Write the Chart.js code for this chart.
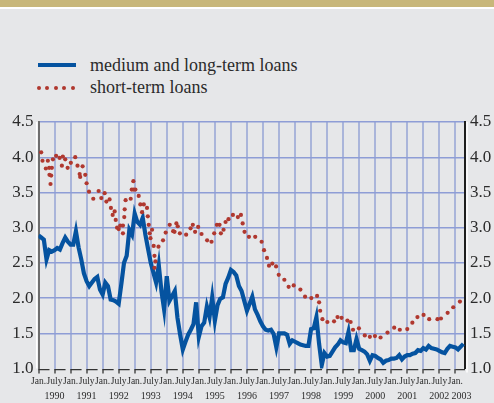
<!DOCTYPE html>
<html>
<head>
<meta charset="utf-8">
<script src="https://cdn.jsdelivr.net/npm/chart.js@4"></script>
<style>
  body { margin: 0; background: #E6E7E9; }
  #wrap { position: relative; width: 494px; height: 403px; overflow: hidden; background: #E6E7E9; }
  #band { position: absolute; left: 0; top: 0; width: 494px; height: 7px; background: #C8B77A; }
  #band2 { position: absolute; left: 0; top: 7px; width: 494px; height: 2px; background: #ffffff; }
  .leg { position: absolute; left: 90px; font-family: 'Liberation Serif', serif; font-size: 18px; color: #2b2b2b; line-height: 20px; }
  #legLine { position: absolute; left: 38px; top: 63px; width: 38px; height: 4px; background: #0553A0; }
  .dot { position: absolute; top: 86px; width: 4px; height: 4px; border-radius: 2px; background: #B0382F; }
  canvas { position: absolute; left: 0; top: 0; }
</style>
</head>
<body>
<div id="wrap">
  <div id="band"></div>
  <div id="band2"></div>
  <div id="legLine"></div>
  <div class="leg" style="top:55px">medium and long-term loans</div>
  <div class="dot" style="left:37px"></div>
  <div class="dot" style="left:45px"></div>
  <div class="dot" style="left:54px"></div>
  <div class="dot" style="left:62px"></div>
  <div class="dot" style="left:71px"></div>
  <div class="leg" style="top:77px">short-term loans</div>
  <canvas id="graphCanvas" width="494" height="403"></canvas>
</div>
<script>
// monthly, starting Jan. 1990
const blueValues = [
  2.89, 2.86, 2.83, 2.55, 2.68, 2.66, 2.68, 2.71, 2.69, 2.78, 2.86, 2.80,
  2.76, 2.76, 2.95, 2.72, 2.55, 2.35, 2.24, 2.17, 2.22, 2.27, 2.30, 2.12,
  2.05, 2.22, 2.17, 1.98, 1.97, 1.95, 1.92, 2.20, 2.50, 2.60, 2.97, 2.90,
  3.20, 3.08, 3.04, 3.14, 2.90, 2.70, 2.50, 2.36, 2.22, 2.47, 2.10, 1.84,
  2.31, 1.96, 2.03, 2.10, 1.72, 1.48, 1.27, 1.38, 1.48, 1.55, 1.63, 1.94,
  1.45, 1.60, 1.65, 1.88, 1.73, 2.01, 1.68, 1.90, 1.99, 2.01, 2.20, 2.29,
  2.40, 2.37, 2.32, 2.17, 2.10, 1.96, 1.82, 1.92, 2.02, 1.84, 1.76, 1.67,
  1.60, 1.55, 1.54, 1.55, 1.49, 1.30, 1.50, 1.50, 1.50, 1.48, 1.35, 1.40,
  1.38, 1.36, 1.34, 1.33, 1.32, 1.32, 1.56, 1.57, 1.73, 1.35, 1.05, 1.22,
  1.17, 1.18, 1.24, 1.30, 1.34, 1.40, 1.37, 1.36, 1.52, 1.26, 1.26, 1.42,
  1.28, 1.26, 1.24, 1.20, 1.11, 1.19, 1.18, 1.15, 1.13, 1.08, 1.11, 1.12,
  1.14, 1.14, 1.15, 1.19, 1.13, 1.17, 1.19, 1.19, 1.21, 1.22, 1.26, 1.25,
  1.29, 1.27, 1.32, 1.29, 1.28, 1.27, 1.25, 1.23, 1.22, 1.28, 1.32, 1.31,
  1.30, 1.27, 1.31, 1.35
];

// short-term loans: months since Jan. 1990 and values
const redMonths = [
  1.0, 1.5, 2.75, 3.5, 4.0, 4.1, 4.5, 4.75, 5.0, 5.4, 6.6, 7.9, 8.75, 9.1, 10.0, 10.9,
  12.1, 13.75, 14.6, 15.4, 15.6, 16.5, 17.5, 18.0, 18.9, 20.5, 22.5, 23.5,
  24.75, 25.4, 26.6, 27.1, 27.75, 28.5, 28.9, 29.4, 30.0, 30.6, 31.6, 31.6, 32.1, 32.25, 32.6, 34.5, 34.9, 35.5, 35.6,
  36.25, 37.5, 38.1, 38.75, 39.4, 40.6, 40.9, 41.25, 41.6, 41.9, 42.5, 43.1, 43.4, 43.4, 43.75, 44.9, 46.6, 47.6,
  49.1, 50.4, 50.9, 51.6, 52.1, 52.9, 55.25, 56.9, 57.75, 58.6, 59.75,
  61.0, 63.1, 64.75, 65.75, 66.75, 67.75, 68.25, 69.25, 70.0, 71.1,
  72.75, 74.6, 75.75, 76.4, 77.1, 78.75, 81.1, 83.5,
  84.4, 85.5, 86.25, 87.5, 88.9, 89.9, 92.0, 93.6, 95.5,
  98.0, 99.75, 102.1, 104.25, 105.0, 105.4, 106.25, 108.1, 110.6, 111.9, 113.4, 115.6, 116.8, 117.7, 119.9,
  122.1, 124.0, 125.9, 128.0, 130.6, 133.1, 135.2, 138.0, 139.9, 141.8, 144.1,
  146.2, 149.3, 150.6, 153.1, 155.2, 157.7
];
const redValues = [
  4.07, 3.95, 3.84, 3.95, 3.85, 3.75, 3.62, 3.74, 3.85, 3.97, 4.02, 3.99, 3.88, 4.01, 3.97, 3.85,
  3.92, 4.00, 3.88, 3.76, 3.72, 3.87, 3.75, 3.63, 3.51, 3.41, 3.52, 3.42,
  3.49, 3.37, 3.40, 3.28, 3.18, 3.23, 3.11, 3.00, 2.98, 3.03, 3.03, 2.92, 3.15, 3.26, 3.39, 3.41, 3.54, 3.66, 3.54,
  3.54, 3.45, 3.33, 3.22, 3.33, 3.28, 3.16, 3.04, 2.92, 2.85, 2.97, 2.74, 2.60, 2.43, 2.52, 2.73, 2.82, 2.93,
  3.04, 2.95, 2.94, 3.06, 3.02, 2.92, 2.90, 2.99, 3.04, 2.94, 3.01,
  2.91, 2.82, 2.80, 2.92, 3.04, 3.04, 2.92, 2.97, 3.08, 3.12,
  3.18, 3.15, 3.18, 3.06, 2.94, 2.87, 2.87, 2.80,
  2.68, 2.57, 2.46, 2.49, 2.45, 2.33, 2.26, 2.16, 2.18,
  2.12, 2.02, 2.00, 2.03, 1.94, 1.82, 1.70, 1.66, 1.67, 1.73, 1.72, 1.68, 1.66, 1.55, 1.57,
  1.47, 1.45, 1.46, 1.44, 1.51, 1.58, 1.55, 1.56, 1.65, 1.73, 1.76,
  1.70, 1.70, 1.71, 1.79, 1.87, 1.95
];

const yTicks = [1.0, 1.5, 2.0, 2.5, 3.0, 3.5, 4.0, 4.5];
const halfYearLabels = ['Jan.', 'July'];
const years = ['1990', '1991', '1992', '1993', '1994', '1995', '1996',
  '1997', '1998', '1999', '2000', '2001', '2002', '2003'];

const serif = 'Liberation Serif';
const textColor = '#2b2b2b';

const blueData = blueValues.map((v, i) => ({ x: i, y: v }));
const redData = redMonths.map((m, i) => ({ x: m, y: redValues[i] }));

// white edges beside the vertical axes, and the hooked baseline under the plot
const edgePlugin = {
  id: 'edges',
  afterDraw(chart) {
    const { ctx, chartArea } = chart;
    const xs = chart.scales.x;
    ctx.save();
    ctx.strokeStyle = '#ffffff';
    ctx.lineWidth = 1.5;
    ctx.beginPath();
    ctx.moveTo(chartArea.left - 1.8, chartArea.top);
    ctx.lineTo(chartArea.left - 1.8, chartArea.bottom);
    ctx.moveTo(chartArea.right + 2, chartArea.top);
    ctx.lineTo(chartArea.right + 2, chartArea.bottom + 4);
    ctx.stroke();
    ctx.strokeStyle = '#333333';
    ctx.lineWidth = 1.3;
    ctx.beginPath();
    xs.ticks.forEach((t) => {
      const px = xs.getPixelForValue(t.value);
      const y = chartArea.bottom + 1.2;
      ctx.moveTo(px, y);
      ctx.lineTo(Math.min(px + 11, chartArea.right), y);
    });
    ctx.stroke();
    ctx.restore();
  }
};

const ctx = document.getElementById('graphCanvas').getContext('2d');
new Chart(ctx, {
  type: 'line',
  data: {
    datasets: [
      {
        label: 'short-term loans',
        data: redData,
        showLine: false,
        pointRadius: 2.1,
        pointBorderWidth: 0,
        pointBackgroundColor: '#B0382F',
        order: 0,
      },
      {
        label: 'medium and long-term loans',
        data: blueData,
        borderColor: '#0553A0',
        borderWidth: 4.2,
        pointRadius: 0,
        tension: 0,
        order: 1,
      },
    ],
  },
  options: {
    responsive: false,
    animation: false,
    devicePixelRatio: 1,
    layout: { padding: { top: 122, left: 0, right: 0, bottom: 0 } },
    plugins: { legend: { display: false }, tooltip: { enabled: false } },
    scales: {
      x: {
        type: 'linear',
        min: 0,
        max: 159.6,
        weight: 0,
        afterBuildTicks: (scale) => {
          const t = [];
          for (let m = 0; m <= 156; m += 6) t.push({ value: m });
          scale.ticks = t;
        },
        afterFit: (scale) => { scale.height = 22; },
        grid: {
          color: (c) => (c.tick && c.tick.value === 0 ? 'rgba(0,0,0,0)' : '#AAB5DA'),
          lineWidth: 2,
          tickColor: '#333333',
          tickLength: 5,
          tickWidth: 1.3,
        },
        border: { display: false },
        ticks: {
          autoSkip: false,
          maxRotation: 0,
          padding: 2,
          color: textColor,
          font: { family: serif, size: 9.5 },
          callback: (v) => halfYearLabels[(v / 6) % 2],
        },
      },
      xYear: {
        type: 'linear',
        position: 'bottom',
        min: 0,
        max: 159.6,
        weight: 1,
        afterBuildTicks: (scale) => {
          scale.ticks = years.map((y, i) => ({ value: i < 13 ? 6 + 12 * i : 158.3 }));
        },
        afterFit: (scale) => { scale.height = 12.5; },
        grid: { display: false, drawTicks: false },
        border: { display: false },
        ticks: {
          autoSkip: false,
          maxRotation: 0,
          padding: 0,
          color: textColor,
          font: { family: serif, size: 10 },
          callback: (v) => {
            const i = v > 157 ? 13 : (v - 6) / 12;
            return years[i];
          },
        },
      },
      y: {
        position: 'left',
        min: 1,
        max: 4.5,
        afterBuildTicks: (scale) => { scale.ticks = yTicks.map((v) => ({ value: v })); },
        afterFit: (scale) => { scale.width = 38.5; },
        grid: {
          color: (c) => (c.tick && c.tick.value === 1 ? 'rgba(0,0,0,0)' : '#8E9DD6'),
          lineWidth: 1.4,
          drawTicks: false,
        },
        border: { display: true, color: '#6e6e6e', width: 2 },
        ticks: {
          padding: 5,
          color: textColor,
          font: { family: serif, size: 17 },
          callback: (v) => v.toFixed(1),
        },
      },
      y2: {
        position: 'right',
        min: 1,
        max: 4.5,
        afterBuildTicks: (scale) => { scale.ticks = yTicks.map((v) => ({ value: v })); },
        afterFit: (scale) => { scale.width = 29; },
        grid: { display: false, drawTicks: false },
        border: { display: true, color: '#1e1e1e', width: 2 },
        ticks: {
          padding: 5,
          color: textColor,
          font: { family: serif, size: 17 },
          callback: (v) => v.toFixed(1),
        },
      },
    },
  },
  plugins: [edgePlugin],
});
</script>
</body>
</html>
